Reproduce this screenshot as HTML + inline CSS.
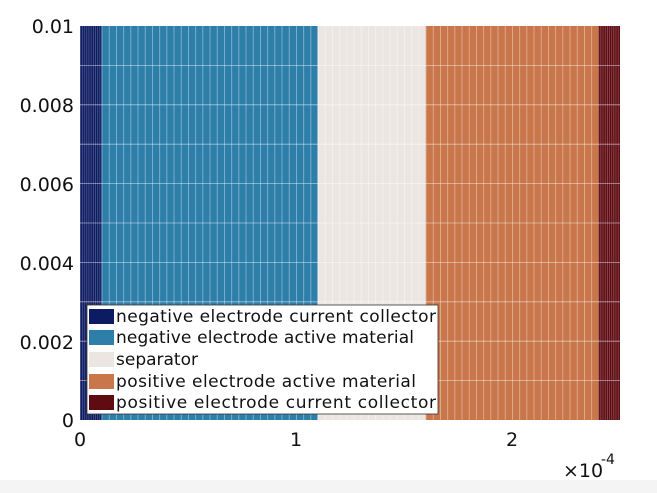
<!DOCTYPE html>
<html><head><style>body{margin:0;background:#fff}svg{display:block}</style></head><body>
<svg width="657" height="493" xmlns="http://www.w3.org/2000/svg" font-family="DejaVu Sans, Liberation Sans, sans-serif">
<rect x="0" y="480" width="657" height="13" fill="#f4f4f4"/>
<defs>
<pattern id="cc" width="2.16" height="394" patternUnits="userSpaceOnUse" x="80" y="26"><line x1="0.3" y1="0" x2="0.3" y2="394" stroke="#fff" stroke-opacity="0.35" stroke-width="0.6"/></pattern>
<pattern id="m" width="7.2" height="394" patternUnits="userSpaceOnUse" x="101.6" y="26"><line x1="0.4" y1="0" x2="0.4" y2="394" stroke="#fff" stroke-opacity="0.45" stroke-width="0.8"/></pattern>
</defs>
<rect x="80" y="26" width="21.6" height="394" fill="#0d1b62"/>
<rect x="101.6" y="26" width="216" height="394" fill="#2e7eaa"/>
<rect x="317.6" y="26" width="108" height="394" fill="#ece6e2"/>
<rect x="425.6" y="26" width="172.8" height="394" fill="#c8764a"/>
<rect x="598.4" y="26" width="21.6" height="394" fill="#5e0c12"/>
<rect x="80" y="26" width="21.6" height="394" fill="url(#cc)"/>
<rect x="598.4" y="26" width="21.6" height="394" fill="url(#cc)"/>
<rect x="101.6" y="26" width="496.8" height="394" fill="url(#m)"/>
<g stroke="#fff" stroke-opacity="0.55" stroke-width="0.8">
<line x1="80" x2="620" y1="65.4" y2="65.4"/><line x1="80" x2="620" y1="104.8" y2="104.8"/><line x1="80" x2="620" y1="144.2" y2="144.2"/><line x1="80" x2="620" y1="183.6" y2="183.6"/><line x1="80" x2="620" y1="223" y2="223"/><line x1="80" x2="620" y1="262.4" y2="262.4"/><line x1="80" x2="620" y1="301.8" y2="301.8"/><line x1="80" x2="620" y1="341.2" y2="341.2"/><line x1="80" x2="620" y1="380.6" y2="380.6"/>
</g>
<g font-size="19" fill="#111" text-anchor="end">
<text x="74" y="33">0.01</text><text x="74" y="112">0.008</text><text x="74" y="191">0.006</text><text x="74" y="270">0.004</text><text x="74" y="349">0.002</text><text x="74" y="427">0</text>
</g>
<g font-size="19" fill="#111" text-anchor="middle">
<text x="80" y="446">0</text><text x="296" y="446">1</text><text x="512" y="446">2</text>
</g>
<text x="563" y="477" font-size="19" fill="#111">×10</text>
<text x="601" y="464" font-size="14" fill="#111">-4</text>
<rect x="87" y="305" width="351" height="109" fill="#fff" stroke="#333" stroke-width="0.8"/>
<rect x="89" y="309" width="25" height="15" fill="#0d1b62"/>
<rect x="89" y="330" width="25" height="15" fill="#2e7eaa"/>
<rect x="89" y="352" width="25" height="15" fill="#ece6e2"/>
<rect x="89" y="374" width="25" height="15" fill="#c8764a"/>
<rect x="89" y="395" width="25" height="15" fill="#5e0c12"/>
<g font-size="17" fill="#111">
<text x="116" y="322" textLength="320">negative electrode current collector</text>
<text x="116" y="343" textLength="298">negative electrode active material</text>
<text x="116" y="365">separator</text>
<text x="116" y="387" textLength="300">positive electrode active material</text>
<text x="116" y="408" textLength="320">positive electrode current collector</text>
</g>
</svg>
</body></html>
